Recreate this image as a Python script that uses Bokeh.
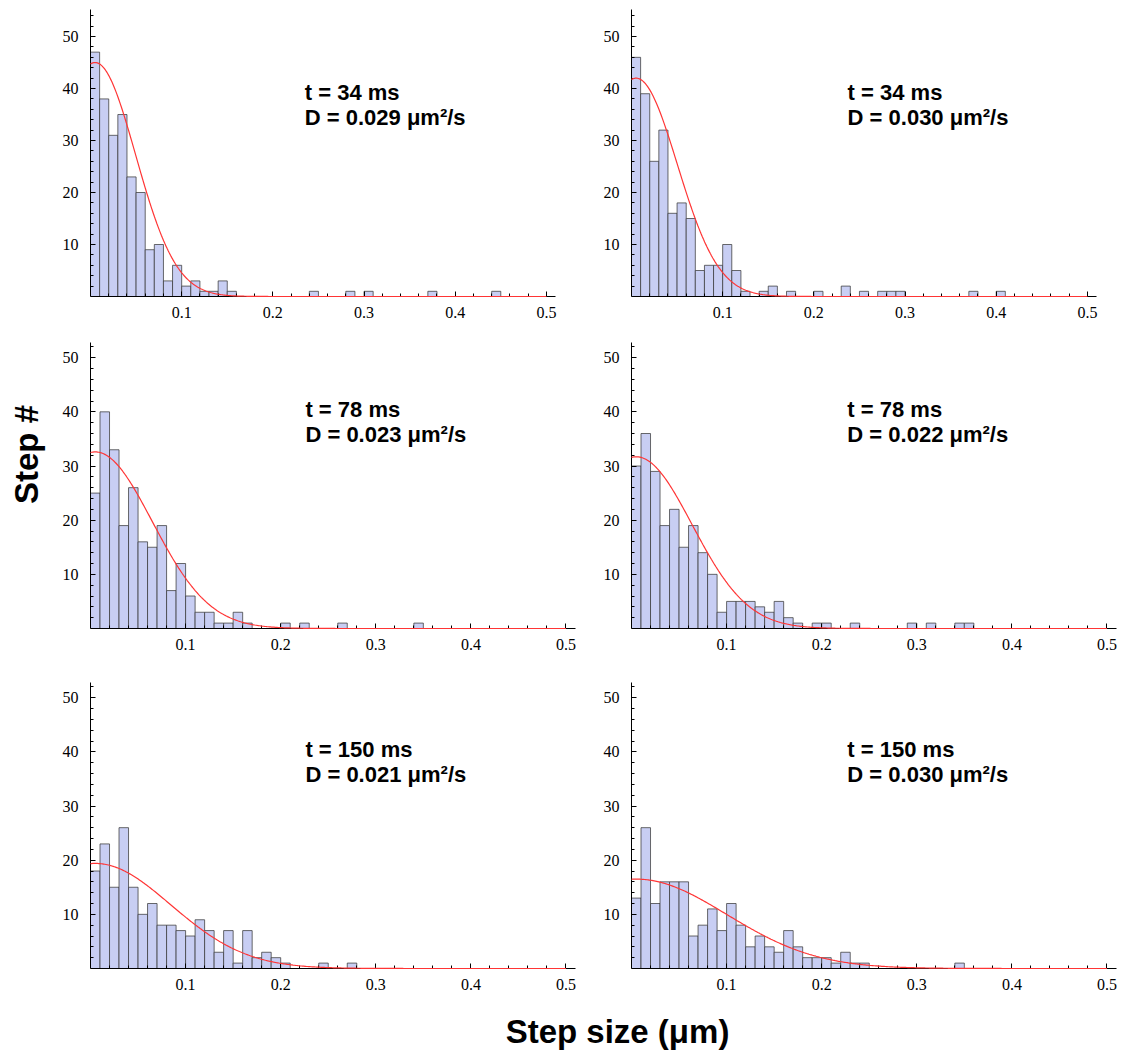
import numpy as np
from bokeh.plotting import figure
from bokeh.layouts import column, row
from bokeh.models import FixedTicker
from bokeh.core.properties import value
from bokeh.embed import file_html
from bokeh.resources import INLINE

# ---------------- data ----------------
bin_width = 0.01
counts_tl = [47, 38, 31, 35, 23, 20, 9, 10, 3, 6, 2, 3, 1, 1, 3, 1, 0, 0, 0, 0,
             0, 0, 0, 0, 1, 0, 0, 0, 1, 0, 1, 0, 0, 0, 0, 0, 0, 1, 0, 0,
             0, 0, 0, 0, 1, 0, 0, 0, 0, 0]
counts_tr = [46, 39, 26, 32, 16, 18, 15, 5, 6, 6, 10, 5, 1, 0, 1, 2, 0, 1, 0, 0,
             1, 0, 0, 2, 0, 1, 0, 1, 1, 1, 0, 0, 0, 0, 0, 0, 0, 1, 0, 0,
             1, 0, 0, 0, 0, 0, 0, 0, 0, 0]
counts_ml = [25, 40, 33, 19, 26, 16, 15, 19, 7, 12, 6, 3, 3, 1, 1, 3, 1, 0, 0, 0,
             1, 0, 1, 0, 0, 0, 1, 0, 0, 0, 0, 0, 0, 0, 1, 0, 0, 0, 0, 0,
             0, 0, 0, 0, 0, 0, 0, 0, 0, 0]
counts_mr = [30, 36, 29, 19, 22, 15, 19, 14, 10, 3, 5, 5, 5, 4, 3, 5, 2, 1, 0, 1,
             1, 0, 0, 1, 0, 0, 0, 0, 0, 1, 0, 1, 0, 0, 1, 1, 0, 0, 0, 0,
             0, 0, 0, 0, 0, 0, 0, 0, 0, 0]
counts_bl = [18, 23, 15, 26, 15, 10, 12, 8, 8, 7, 6, 9, 7, 3, 7, 1, 7, 2, 3, 2,
             1, 0, 0, 0, 1, 0, 0, 1, 0, 0, 0, 0, 0, 0, 0, 0, 0, 0, 0, 0,
             0, 0, 0, 0, 0, 0, 0, 0, 0, 0]
counts_br = [13, 26, 12, 16, 16, 16, 6, 8, 11, 7, 12, 8, 4, 6, 4, 3, 7, 4, 2, 2,
             2, 1, 3, 1, 1, 0, 0, 0, 0, 0, 0, 0, 0, 0, 1, 0, 0, 0, 0, 0,
             0, 0, 0, 0, 0, 0, 0, 0, 0, 0]

times_ms = [34, 34, 78, 78, 150, 150]
D_values = [0.029, 0.030, 0.023, 0.022, 0.021, 0.030]      # um^2/s
fit_amplitudes = [45.0, 42.0, 32.6, 31.7, 19.4, 16.5]
fit_offset = 0.005

x_ticks = [0.1, 0.2, 0.3, 0.4, 0.5]
x_minor = [0.02, 0.04, 0.06, 0.08, 0.12, 0.14, 0.16, 0.18, 0.22, 0.24, 0.26, 0.28,
           0.32, 0.34, 0.36, 0.38, 0.42, 0.44, 0.46, 0.48]
y_ticks = [10, 20, 30, 40, 50]
y_minor = [2, 4, 6, 8, 12, 14, 16, 18, 22, 24, 26, 28, 32, 34, 36, 38, 42, 44, 46, 48, 52, 54]

x_label = "Step size (μm)"
y_label = "Step #"

BAR_FILL = "#c8cef3"
BAR_LINE = "#3a3a3a"
CURVE = "#ff3535"
TICK_FONT = "Liberation Serif"
TEXT_FONT = "Liberation Sans"


def make_panel(counts, t_ms, D, A, frame_w, frame_h, ymax, lb, rb, tb, bb, tx, ty1, ty2):
    p = figure(frame_width=frame_w, frame_height=frame_h,
               x_range=(0, 0.51), y_range=(0, ymax),
               output_backend="svg", toolbar_location=None,
               min_border_left=lb, min_border_right=rb,
               min_border_top=tb, min_border_bottom=bb)
    p.outline_line_color = None
    p.xgrid.visible = False
    p.ygrid.visible = False
    p.background_fill_color = "white"
    p.border_fill_color = "white"

    c = np.array(counts, dtype=float)
    edges = np.arange(len(c)) * bin_width
    m = c > 0
    p.quad(left=edges[m], right=edges[m] + bin_width, bottom=0, top=c[m],
           fill_color=BAR_FILL, line_color=BAR_LINE, line_alpha=0.75, line_width=1)

    xs = np.linspace(0, 0.5, 400)
    ys = A * np.exp(-(xs - fit_offset) ** 2 / (4 * D * t_ms / 1000.0))
    p.line(xs, ys, line_color=CURVE, line_width=1.2, level="overlay")

    p.text(x=[tx], y=[ty1], text=[f"t = {t_ms} ms"], text_font=value(TEXT_FONT),
           text_font_style="bold", text_font_size="22px", text_baseline="middle",
           text_align="left", text_color="black")
    p.text(x=[tx], y=[ty2], text=[f"D = {D:.3f} μm²/s"], text_font=value(TEXT_FONT),
           text_font_style="bold", text_font_size="22px", text_baseline="middle",
           text_align="left", text_color="black")

    for ax in (p.xaxis[0], p.yaxis[0]):
        ax.axis_line_color = "black"
        ax.axis_line_width = 1
        ax.major_tick_line_color = "black"
        ax.minor_tick_line_color = "black"
        ax.major_tick_in = 5
        ax.major_tick_out = 0
        ax.minor_tick_in = 3
        ax.minor_tick_out = 0
        ax.major_label_text_font = TICK_FONT
        ax.major_label_text_font_size = "16px"
        ax.major_label_text_color = "black"
    p.xaxis.ticker = FixedTicker(ticks=x_ticks, minor_ticks=x_minor)
    p.yaxis.ticker = FixedTicker(ticks=y_ticks, minor_ticks=y_minor)
    p.xaxis.major_label_standoff = 10
    p.yaxis.major_label_standoff = 12
    return p


# top row (slightly smaller frames)
p1 = make_panel(counts_tl, times_ms[0], D_values[0], fit_amplitudes[0], 465, 287, 55.2,
                43, 30, 9, 46, 0.235, 39.3, 34.5)
p2 = make_panel(counts_tr, times_ms[1], D_values[1], fit_amplitudes[1], 465, 287, 55.2,
                46, 3, 9, 46, 0.237, 39.3, 34.5)
# middle row
p3 = make_panel(counts_ml, times_ms[2], D_values[2], fit_amplitudes[2], 485, 286, 52.8,
                43, 10, 0, 54, 0.226, 40.4, 35.8)
p4 = make_panel(counts_mr, times_ms[3], D_values[3], fit_amplitudes[3], 485, 286, 52.8,
                46, 3, 0, 54, 0.227, 40.4, 35.8)
# bottom row
p5 = make_panel(counts_bl, times_ms[4], D_values[4], fit_amplitudes[4], 485, 286, 52.8,
                43, 10, 0, 23, 0.226, 40.4, 35.8)
p6 = make_panel(counts_br, times_ms[5], D_values[5], fit_amplitudes[5], 485, 286, 52.8,
                46, 3, 0, 23, 0.227, 40.4, 35.8)

grid_h = (9 + 287 + 46) + (286 + 54) + (286 + 23)

# y label strip
ly = figure(width=47, height=grid_h, x_range=(0, 47), y_range=(0, grid_h),
            output_backend="svg", toolbar_location=None,
            x_axis_type=None, y_axis_type=None, min_border=0)
ly.outline_line_color = None
ly.xgrid.visible = False
ly.ygrid.visible = False
ly.text(x=[26], y=[grid_h - 454], text=[y_label], angle=np.pi / 2,
        text_font=value(TEXT_FONT), text_font_style="bold", text_font_size="33px",
        text_align="center", text_baseline="middle", text_color="black")

# x label strip
lx = figure(width=1119, height=60, x_range=(0, 1119), y_range=(0, 60),
            output_backend="svg", toolbar_location=None,
            x_axis_type=None, y_axis_type=None, min_border=0)
lx.outline_line_color = None
lx.xgrid.visible = False
lx.ygrid.visible = False
lx.text(x=[617], y=[21], text=[x_label],
        text_font=value(TEXT_FONT), text_font_style="bold", text_font_size="33px",
        text_align="center", text_baseline="middle", text_color="black")

grid = column(row(p1, p2), row(p3, p4), row(p5, p6))
layout = column(row(ly, grid), lx)

open("out.html", "w").write(file_html(layout, INLINE))
